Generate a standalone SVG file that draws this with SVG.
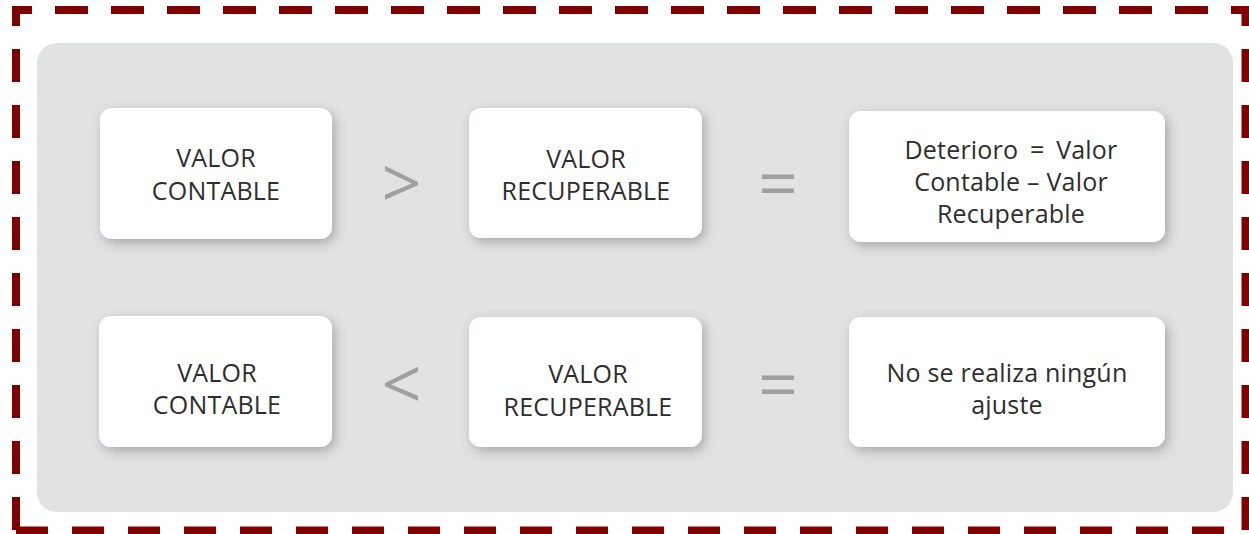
<svg xmlns="http://www.w3.org/2000/svg" width="1249" height="534" viewBox="0 0 1249 534">
<defs>
<filter id="sh" x="-20%" y="-20%" width="150%" height="160%">
<feDropShadow dx="3" dy="4" stdDeviation="6" flood-color="#000" flood-opacity="0.26"/>
</filter>
<style>
.frame{fill:none;stroke:#7f0000;stroke-width:8;stroke-dasharray:33 23;stroke-dashoffset:13}
.box{fill:#fff;filter:url(#sh)}
.t{font-family:"Open Sans","Noto Sans",sans-serif;font-size:25px;letter-spacing:0.2px;fill:#2e2e2e;text-anchor:middle}
.sym{font-family:"Open Sans","Noto Sans",sans-serif;font-size:70px;fill:#9fa0a2;text-anchor:middle}
</style>
</defs>
<rect width="1249" height="534" fill="#fff"/>
<g id="frame">
<line class="frame" x1="12" y1="10" x2="1249" y2="10"/>
<line class="frame" x1="16" y1="6" x2="16" y2="534"/>
<line class="frame" x1="1245.5" y1="6" x2="1245.5" y2="534"/>
<line class="frame" x1="16" y1="530.5" x2="1245" y2="530.5" style="stroke-dasharray:32 24;stroke-dashoffset:0"/>
</g>
<rect id="panel" x="37" y="43" width="1196" height="469" rx="20" fill="#e1e2e4"/>
<g id="r1b1"><rect class="box" x="100" y="108" width="232" height="131" rx="12"/>
<text class="t" x="216" y="167">VALOR</text><text class="t" x="216" y="200">CONTABLE</text></g>
<g id="r1b2"><rect class="box" x="469" y="108" width="233" height="130" rx="12"/>
<text class="t" x="586" y="168">VALOR</text><text class="t" x="586" y="200">RECUPERABLE</text></g>
<g id="r1b3"><rect class="box" x="849" y="111" width="316" height="131" rx="12"/>
<text class="t" x="1011" y="159" word-spacing="5">Deterioro = Valor</text><text class="t" x="1011" y="191">Contable – Valor</text><text class="t" x="1011" y="223">Recuperable</text></g>
<g id="r2b1"><rect class="box" x="99" y="316" width="233" height="131" rx="12"/>
<text class="t" x="217" y="382">VALOR</text><text class="t" x="217" y="414">CONTABLE</text></g>
<g id="r2b2"><rect class="box" x="469" y="317" width="233" height="130" rx="12"/>
<text class="t" x="588" y="383">VALOR</text><text class="t" x="588" y="416">RECUPERABLE</text></g>
<g id="r2b3"><rect class="box" x="849" y="317" width="316" height="130" rx="12"/>
<text class="t" x="1007" y="382">No se realiza ningún</text><text class="t" x="1007" y="414">ajuste</text></g>
<g id="connectors">
<text class="sym" x="401.5" y="208">&gt;</text>
<text class="sym" x="778" y="208">=</text>
<text class="sym" x="401.5" y="409">&lt;</text>
<text class="sym" x="778" y="409">=</text>
</g>
</svg>
